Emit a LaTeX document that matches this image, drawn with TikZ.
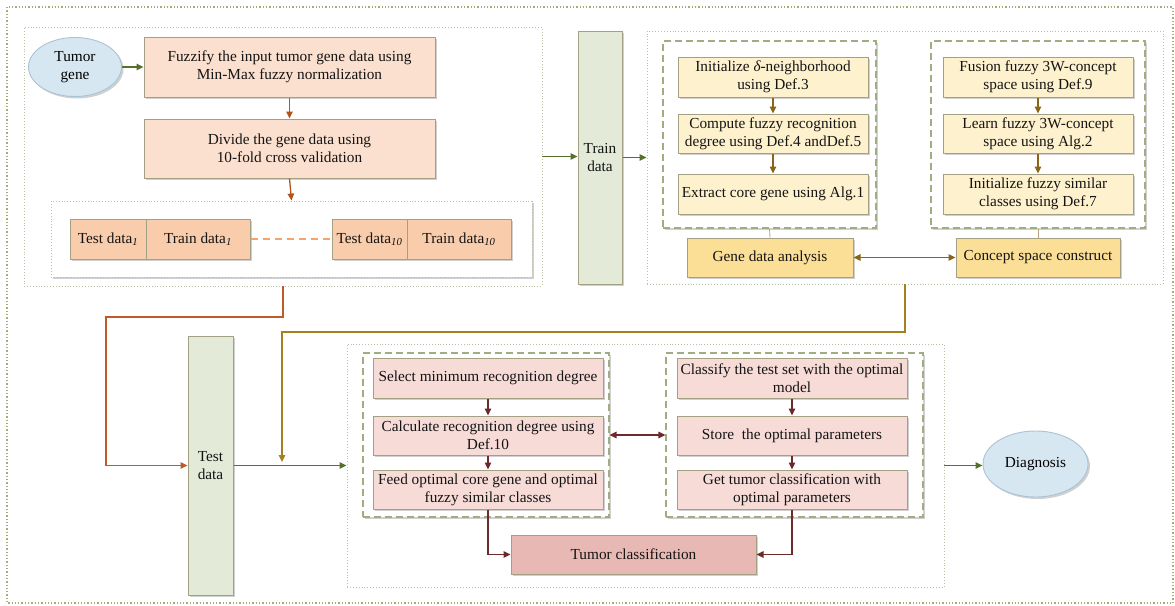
\documentclass[tikz,border=0pt]{standalone}
\usepackage{fontspec}
\setmainfont{Liberation Serif}
\usetikzlibrary{arrows.meta,shadows,shapes.geometric}
\definecolor{peachc}{HTML}{FBE0CF}
\definecolor{peachd}{HTML}{F9CDAB}
\definecolor{yellowc}{HTML}{FEF1CD}
\definecolor{goldc}{HTML}{FCDF97}
\definecolor{pinkc}{HTML}{F7DBD7}
\definecolor{pinkd}{HTML}{E8B9B4}
\definecolor{greenbar}{HTML}{E4EAD8}
\definecolor{ellfill}{HTML}{D7E7F1}
\definecolor{ellbord}{HTML}{A9C3D6}
\definecolor{bordc}{HTML}{A3A083}
\definecolor{arrgreen}{HTML}{56702E}
\definecolor{arrbrown}{HTML}{B4531A}
\definecolor{looporange}{HTML}{C05A28}
\definecolor{arrgold}{HTML}{8A6516}
\definecolor{loopgold}{HTML}{A5801F}
\definecolor{arrred}{HTML}{6E2A2A}
\definecolor{outerc}{HTML}{A0AE78}
\definecolor{grpc}{HTML}{B9C2A6}
\definecolor{dashc}{HTML}{9FAE80}
\definecolor{thinc}{HTML}{B8A27A}
\definecolor{dashorange}{HTML}{F4A46A}
\newcommand\mybox[7]{%
  \pgfmathsetmacro\myW{#5-#3}\pgfmathsetmacro\myH{#6-#4}%
  \pgfmathsetmacro\myCX{(#3+#5)/2}\pgfmathsetmacro\myCY{(#4+#6)/2}%
  \node[#1, minimum width=\myW pt, minimum height=\myH pt] (#2) at (\myCX,\myCY) {#7};}
\begin{document}
\begin{tikzpicture}[x=1pt,y=-1pt,
  font=\fontsize{15.3}{18}\selectfont,
  shad/.style={drop shadow={shadow xshift=2pt,shadow yshift=-2pt,opacity=0.3,fill=black!60}},
  boxbase/.style={rectangle, draw=bordc, line width=1pt, inner sep=1pt, align=center, text=black!92, shad},
  peach/.style={boxbase, fill=peachc},
  peachdark/.style={boxbase, fill=peachd},
  yel/.style={boxbase, fill=yellowc},
  gold/.style={boxbase, fill=goldc},
  pink/.style={boxbase, fill=pinkc},
  pinkdark/.style={boxbase, fill=pinkd},
  bar/.style={boxbase, fill=greenbar},
  ell/.style={ellipse, draw=ellbord, line width=0.9pt, fill=ellfill, inner sep=0pt, align=center, shad},
  grp/.style={rectangle, draw=grpc, dotted, line width=0.9pt, inner sep=0pt},
  grpw/.style={grp, fill=white, shad},
  dgrp/.style={rectangle, draw=dashc, dash pattern=on 7pt off 4pt, line width=1.1pt, fill=white, inner sep=0pt, shad},
  tipg/.style={-{Triangle[length=7pt,width=6.5pt]}},
  ga/.style={tipg, draw=arrgreen, line width=1.3pt},
  ba/.style={tipg, draw=arrbrown, line width=1.3pt},
  ya/.style={tipg, draw=arrgold, line width=1.3pt},
  ra/.style={tipg, draw=arrred, line width=1.3pt},
  dbl/.style={{Triangle[length=7pt,width=6.5pt]}-{Triangle[length=7pt,width=6.5pt]}, line width=1.3pt}
]
\useasboundingbox (0,0) rectangle (1175,605);
\fill[white] (0,0) rectangle (1175,605);
% outer frame
\draw[draw=outerc, line width=1.3pt, dotted] (7,7) rectangle (1173,603);
% groups
\mybox{grp}{leftgrp}{24}{27}{542}{286}{}
\mybox{grp}{rightgrp}{647}{31}{1163}{284}{}
\mybox{grp}{botgrp}{347}{344}{944}{587}{}
\mybox{grpw}{split}{51}{201}{532}{277}{}
\mybox{dgrp}{Ldash}{663}{41}{876}{228}{}
\mybox{dgrp}{Rdash}{931}{41}{1145}{228}{}
\mybox{dgrp}{Ldashb}{363}{353}{609}{517}{}
\mybox{dgrp}{Rdashb}{666}{353}{923}{517}{}
% left part
\node[ell, minimum width=93pt, minimum height=59pt] (tumor) at (75,67) {Tumor\\gene};
\mybox{peach}{fuzz}{144}{37}{435}{97}{Fuzzify the input tumor gene data using\\Min-Max fuzzy normalization}
\mybox{peach}{divide}{144}{119}{435}{178}{Divide the gene data using\\10-fold cross validation}
\mybox{peachdark}{testA}{70}{219}{146}{259}{Test data\textsubscript{\textit{1}}}
\mybox{peachdark}{trainA}{146}{219}{250}{259}{Train data\textsubscript{\textit{1}}}
\mybox{peachdark}{testB}{332}{219}{407}{259}{Test data\textsubscript{\textit{10}}}
\mybox{peachdark}{trainB}{407}{219}{511}{259}{Train data\textsubscript{\textit{10}}}
% bars
\mybox{bar}{trainbar}{578}{31}{622}{284}{Train\\data}
\mybox{bar}{testbar}{188}{336}{233}{595}{Test\\data}
% right top
\mybox{yel}{init}{678}{57}{868}{97}{Initialize {\itshape δ}-neighborhood\\using Def.3}
\mybox{yel}{compute}{678}{114}{868}{153}{Compute fuzzy recognition\\degree using Def.4 andDef.5}
\mybox{yel}{extract}{678}{174}{868}{214}{Extract core gene using Alg.1}
\mybox{yel}{fusion}{943}{57}{1133}{97}{Fusion fuzzy 3W-concept\\space using Def.9}
\mybox{yel}{learn}{943}{114}{1133}{153}{Learn fuzzy 3W-concept\\space using Alg.2}
\mybox{yel}{initsim}{943}{174}{1133}{214}{Initialize fuzzy similar\\classes using Def.7}
\mybox{gold}{gene}{687}{238}{853}{277}{Gene data analysis}
\mybox{gold}{concept}{956}{238}{1120}{277}{Concept space construct}
% bottom
\mybox{pink}{select}{373}{358}{603}{398}{Select minimum recognition degree}
\mybox{pink}{calc}{373}{416}{603}{455}{Calculate recognition degree using\\Def.10}
\mybox{pink}{feed}{373}{470}{603}{509}{Feed optimal core gene and optimal\\fuzzy similar classes}
\mybox{pink}{classify}{677}{358}{907}{398}{Classify the test set with the optimal\\model}
\mybox{pink}{store}{677}{416}{907}{455}{Store\ \ the optimal parameters}
\mybox{pink}{get}{677}{470}{907}{509}{Get tumor classification with\\optimal parameters}
\mybox{pinkdark}{tumorcls}{511}{535}{756}{574}{Tumor classification}
\node[ell, minimum width=105pt, minimum height=66pt] (diag) at (1035.5,464) {Diagnosis};
% coordinates
\coordinate (oturn) at (106,317);
\coordinate (gturn) at (282,332);
\coordinate (gend) at (282,462);
% connectors
\draw[ga] (tumor.east) -- (fuzz.west);
\draw[ba] (fuzz.south) -- (divide.north);
\draw[ba] (divide.south) -- (split.north);
\draw[draw=dashorange, line width=1.2pt, dash pattern=on 7pt off 5pt] (trainA.east) -- (testB.west);
\draw[ga] (leftgrp.east) -- (leftgrp.east -| trainbar.west);
\draw[ga] (trainbar.east) -- (trainbar.east -| rightgrp.west);
\draw[ya] (init.south) -- (compute.north);
\draw[ya] (compute.south) -- (extract.north);
\draw[ya] (fusion.south) -- (learn.north);
\draw[ya] (learn.south) -- (initsim.north);
\draw[thinc, line width=0.8pt] (Ldash.south) -- (gene.north);
\draw[thinc, line width=0.8pt] (Rdash.south) -- (concept.north);
\draw[dbl, draw=arrgold] (gene.east) -- (concept.west);
\draw[ya, draw=loopgold] (rightgrp.south) |- (gturn) -- (gend);
\draw[ba, draw=looporange] (leftgrp.south) |- (oturn) |- (testbar.west);
\draw[ga] (testbar.east) -- (testbar.east -| botgrp.west);
\draw[ra] (select.south) -- (calc.north);
\draw[ra] (calc.south) -- (feed.north);
\draw[ra] (classify.south) -- (store.north);
\draw[ra] (store.south) -- (get.north);
\draw[dbl, draw=arrred] (Ldashb.east) -- (Rdashb.west);
\draw[ra] (feed.south) |- (tumorcls.west);
\draw[ra] (get.south) |- (tumorcls.east);
\draw[ga] (botgrp.east) -- (botgrp.east -| diag.west);
\end{tikzpicture}
\end{document}
